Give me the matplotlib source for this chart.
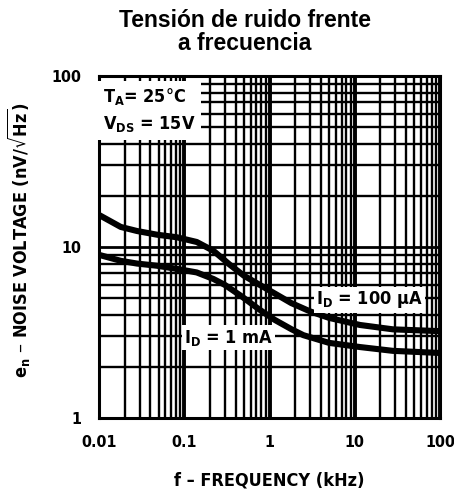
import matplotlib
matplotlib.use("Agg")
import matplotlib.pyplot as plt
from matplotlib import font_manager
from matplotlib.ticker import LogLocator, NullFormatter

# ---- data ----
freq_100uA = [0.01, 0.018, 0.028, 0.048, 0.082, 0.14, 0.22, 0.34, 0.5, 0.74, 1.15, 1.8, 3.0, 5.0, 11.5, 28, 100]
noise_100uA = [15.4, 13.1, 12.4, 11.8, 11.4, 10.7, 9.5, 7.9, 6.8, 6.07, 5.35, 4.7, 4.2, 3.85, 3.5, 3.3, 3.22]
freq_1mA = [0.01, 0.018, 0.028, 0.048, 0.082, 0.14, 0.22, 0.3, 0.47, 0.74, 1.15, 1.82, 2.5, 5.0, 11.5, 28, 100]
noise_1mA = [9.0, 8.3, 8.0, 7.77, 7.45, 7.1, 6.5, 6.0, 5.15, 4.35, 3.75, 3.3, 3.05, 2.75, 2.6, 2.47, 2.4]
x_ticks = [0.01, 0.1, 1, 10, 100]
x_ticklabels = ["0.01", "0.1", "1", "10", "100"]
y_ticks = [1, 10, 100]
y_ticklabels = ["1", "10", "100"]

names = {f.name for f in font_manager.fontManager.ttflist}
narrow = "Liberation Sans Narrow" if "Liberation Sans Narrow" in names else "DejaVu Sans"
stretch = "normal" if narrow == "Liberation Sans Narrow" else "condensed"

plt.rcParams["font.family"] = [narrow, "DejaVu Sans"]
plt.rcParams["font.stretch"] = stretch
plt.rcParams["font.weight"] = "bold"
plt.rcParams["axes.labelweight"] = "bold"
plt.rcParams["mathtext.default"] = "regular"

fig = plt.figure(figsize=(4.54, 4.91), dpi=100)
ax = fig.add_axes([99/454, 73/491, 341/454, 342/491])
ax.set_xscale("log")
ax.set_yscale("log")
ax.set_xlim(0.01, 100)
ax.set_ylim(1, 100)

# grid
ax.xaxis.set_minor_locator(LogLocator(base=10, subs=range(2, 10)))
ax.yaxis.set_minor_locator(LogLocator(base=10, subs=range(2, 10)))
ax.xaxis.set_minor_formatter(NullFormatter())
ax.yaxis.set_minor_formatter(NullFormatter())
ax.grid(True, which="major", axis="x", color="black", linewidth=2.8)
ax.grid(True, which="major", axis="y", color="black", linewidth=2.0)
ax.grid(True, which="minor", color="black", linewidth=1.7)
ax.set_axisbelow(True)

ax.plot(freq_100uA, noise_100uA, color="black", linewidth=4.4, solid_capstyle="butt",
        solid_joinstyle="round", zorder=3)
ax.plot(freq_1mA, noise_1mA, color="black", linewidth=4.4, solid_capstyle="butt",
        solid_joinstyle="round", zorder=3)

ax.set_xticks(x_ticks)
ax.set_xticklabels(x_ticklabels)
ax.set_yticks(y_ticks)
ax.set_yticklabels(y_ticklabels)
ax.tick_params(which="both", length=0)
ax.tick_params(axis="x", pad=12, labelsize=11.5)
ax.tick_params(axis="y", pad=13, labelsize=11.5)
for s in ax.spines.values():
    s.set_linewidth(2.2)

ax.set_xlabel("f – FREQUENCY (kHz)", fontsize=13, labelpad=16)
ax.set_ylabel(r"e$_n$ – NOISE VOLTAGE (nV/$\sqrt{Hz}$)", fontsize=13)
ax.yaxis.set_label_coords(-0.195, 0.52)

box = dict(facecolor="white", edgecolor="none", pad=1.5)
ax.text(0.012, 0.97, "T$_A$= 25°C\nV$_{DS}$ = 15V", transform=ax.transAxes, fontsize=13,
        va="top", ha="left", linespacing=1.45,
        bbox=dict(facecolor="white", edgecolor="none", pad=4), zorder=4)
ax.text(15, 4.9, r"I$_D$ = 100 $\mu$A", fontsize=13, ha="center", va="center", bbox=box, zorder=4)
ax.text(0.33, 2.95, "I$_D$ = 1 mA", fontsize=13, ha="center", va="center", bbox=box, zorder=4)

fig.text(245/454, 1 - 32/491, "Tensión de ruido frente\na frecuencia", ha="center", va="center",
         fontsize=16.5, fontweight="bold", family=["Liberation Sans", "DejaVu Sans"],
         fontstretch="normal", linespacing=1.05)

fig.savefig("out.png", dpi=100)
